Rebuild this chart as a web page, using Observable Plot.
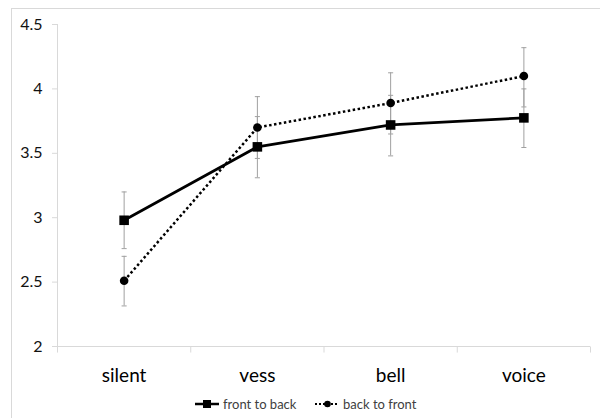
<!DOCTYPE html>
<html>
<head>
<meta charset="utf-8">
<script src="https://cdn.jsdelivr.net/npm/d3@7"></script>
<script src="https://cdn.jsdelivr.net/npm/@observablehq/plot@0.6"></script>
<style>
  html, body { margin: 0; padding: 0; background: #fff; }
  #wrap { position: relative; width: 600px; height: 418px; overflow: hidden; font-family: Lato, "Open Sans", sans-serif; }
  #frame { position: absolute; left: 11px; top: 8px; width: 620px; height: 440px; border: 1px solid #d9d9d9; box-sizing: border-box; }
  #chart { position: absolute; left: 0; top: 0; }
  #legend { position: absolute; left: 0; top: 395px; width: 600px; height: 18px; font-size: 13px; color: #404040; }
  .item { position: absolute; display: flex; align-items: center; top: 0; height: 18px; }
  .item svg { margin-right: 3px; }
</style>
</head>
<body>
<div id="wrap">
  <div id="frame"></div>
  <div id="chart"></div>
  <div id="legend"></div>
</div>
<script>
const categories = ["silent", "vess", "bell", "voice"];
const frontMean = [2.98, 3.55, 3.72, 3.775];
const frontLow  = [2.76, 3.31, 3.48, 3.545];
const frontHigh = [3.20, 3.785, 3.95, 4.00];
const backMean  = [2.51, 3.70, 3.89, 4.10];
const backLow   = [2.315, 3.46, 3.65, 3.86];
const backHigh  = [2.70, 3.94, 4.125, 4.32];
const yTicks = [2, 2.5, 3, 3.5, 4, 4.5];
const seriesNames = ["front to back", "back to front"];

const front = categories.map((c, i) => ({i, c, v: frontMean[i], lo: frontLow[i], hi: frontHigh[i]}));
const back = categories.map((c, i) => ({i, c, v: backMean[i], lo: backLow[i], hi: backHigh[i]}));
const both = front.concat(back);
const bounds = d3.range(categories.length + 1).map(k => k - 0.5);
const capHalf = 0.019;

const chart = Plot.plot({
  width: 600,
  height: 390,
  marginTop: 24,
  marginBottom: 44,
  marginLeft: 57,
  marginRight: 10,
  style: {fontFamily: "Lato, 'Open Sans', sans-serif", background: "transparent"},
  x: {type: "linear", domain: [-0.5, categories.length - 0.5], axis: null},
  y: {domain: [2, 4.5], axis: null},
  marks: [
    Plot.ruleY([2], {stroke: "#d9d9d9", strokeWidth: 1}),
    Plot.ruleX([-0.5], {y1: 2, y2: 4.5, stroke: "#d9d9d9", strokeWidth: 1}),
    Plot.axisY({ticks: yTicks, tickSize: 5, tickPadding: 10, stroke: "#d9d9d9", fill: "#111", fontSize: 16, tickFormat: d => String(d)}),
    Plot.link(bounds, {x1: d => d, x2: d => d, y1: 2, y2: 1.953, stroke: "#d9d9d9"}),
    Plot.text(categories, {x: (d, i) => i, y: 2, dy: 29, text: d => d, fontSize: 19, fill: "#000", lineAnchor: "middle"}),
    Plot.ruleX(both, {x: "i", y1: "lo", y2: "hi", stroke: "#a0a0a0", strokeWidth: 1}),
    Plot.link(both, {x1: d => d.i - capHalf, x2: d => d.i + capHalf, y1: "hi", y2: "hi", stroke: "#a0a0a0"}),
    Plot.link(both, {x1: d => d.i - capHalf, x2: d => d.i + capHalf, y1: "lo", y2: "lo", stroke: "#a0a0a0"}),
    Plot.line(front, {x: "i", y: "v", stroke: "#000", strokeWidth: 2.75}),
    Plot.line(back, {x: "i", y: "v", stroke: "#000", strokeWidth: 2.5, strokeDasharray: "2.5,2.5", strokeLinecap: "butt"}),
    Plot.dot(front, {x: "i", y: "v", symbol: "square", r: 5.4, fill: "#000", stroke: "none"}),
    Plot.dot(back, {x: "i", y: "v", symbol: "circle", r: 4.3, fill: "#000", stroke: "none"})
  ]
});
document.getElementById("chart").appendChild(chart);

// legend
const legend = document.getElementById("legend");
const items = [
  {name: seriesNames[0], left: 195, dash: null, sym: "square"},
  {name: seriesNames[1], left: 315, dash: "2,2", sym: "circle"}
];
items.forEach(it => {
  const div = document.createElement("div");
  div.className = "item";
  div.style.left = it.left + "px";
  const ns = "http://www.w3.org/2000/svg";
  const svg = document.createElementNS(ns, "svg");
  svg.setAttribute("width", 25); svg.setAttribute("height", 12);
  const ln = document.createElementNS(ns, "line");
  ln.setAttribute("x1", 0); ln.setAttribute("x2", 24); ln.setAttribute("y1", 6); ln.setAttribute("y2", 6);
  ln.setAttribute("stroke", "#000"); ln.setAttribute("stroke-width", it.dash ? 2 : 2.5);
  if (it.dash) ln.setAttribute("stroke-dasharray", it.dash);
  svg.appendChild(ln);
  if (it.sym === "square") {
    const r = document.createElementNS(ns, "rect");
    r.setAttribute("x", 8); r.setAttribute("y", 2); r.setAttribute("width", 8); r.setAttribute("height", 8);
    r.setAttribute("fill", "#000"); svg.appendChild(r);
  } else {
    const c = document.createElementNS(ns, "circle");
    c.setAttribute("cx", 12.5); c.setAttribute("cy", 6); c.setAttribute("r", 3.3);
    c.setAttribute("fill", "#000"); svg.appendChild(c);
  }
  div.appendChild(svg);
  const span = document.createElement("span");
  span.textContent = it.name;
  div.appendChild(span);
  legend.appendChild(div);
});
</script>
</body>
</html>
